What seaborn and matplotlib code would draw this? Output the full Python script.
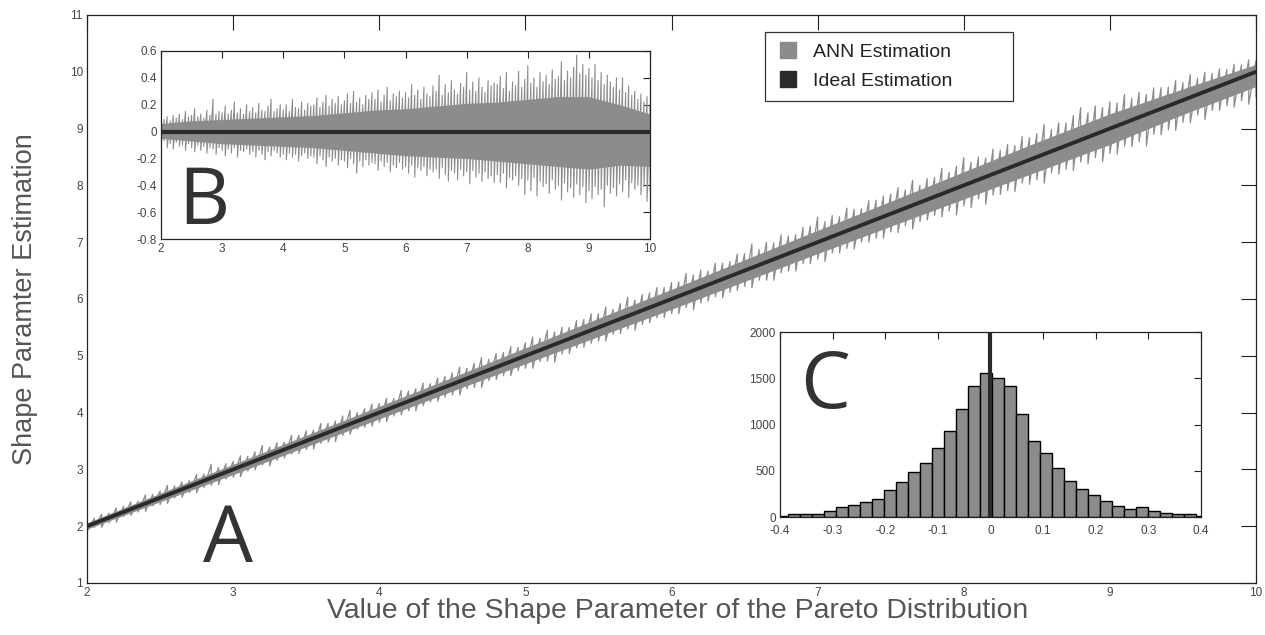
import numpy as np
import pandas as pd
import matplotlib
matplotlib.use("Agg")
import matplotlib.pyplot as plt
from matplotlib.lines import Line2D
import seaborn as sns

# true shape parameter values the network was tested on
shape_x = [2.00, 2.05, 2.10, 2.15, 2.20, 2.25, 2.30, 2.35, 2.40, 2.45,
           2.50, 2.55, 2.60, 2.65, 2.70, 2.75, 2.80, 2.85, 2.90, 2.95,
           3.00, 3.05, 3.10, 3.15, 3.20, 3.25, 3.30, 3.35, 3.40, 3.45,
           3.50, 3.55, 3.60, 3.65, 3.70, 3.75, 3.80, 3.85, 3.90, 3.95,
           4.00, 4.05, 4.10, 4.15, 4.20, 4.25, 4.30, 4.35, 4.40, 4.45,
           4.50, 4.55, 4.60, 4.65, 4.70, 4.75, 4.80, 4.85, 4.90, 4.95,
           5.00, 5.05, 5.10, 5.15, 5.20, 5.25, 5.30, 5.35, 5.40, 5.45,
           5.50, 5.55, 5.60, 5.65, 5.70, 5.75, 5.80, 5.85, 5.90, 5.95,
           6.00, 6.05, 6.10, 6.15, 6.20, 6.25, 6.30, 6.35, 6.40, 6.45,
           6.50, 6.55, 6.60, 6.65, 6.70, 6.75, 6.80, 6.85, 6.90, 6.95,
           7.00, 7.05, 7.10, 7.15, 7.20, 7.25, 7.30, 7.35, 7.40, 7.45,
           7.50, 7.55, 7.60, 7.65, 7.70, 7.75, 7.80, 7.85, 7.90, 7.95,
           8.00, 8.05, 8.10, 8.15, 8.20, 8.25, 8.30, 8.35, 8.40, 8.45,
           8.50, 8.55, 8.60, 8.65, 8.70, 8.75, 8.80, 8.85, 8.90, 8.95,
           9.00, 9.05, 9.10, 9.15, 9.20, 9.25, 9.30, 9.35, 9.40, 9.45,
           9.50, 9.55, 9.60, 9.65, 9.70, 9.75, 9.80, 9.85, 9.90, 9.95,
           10.00]

# spread of the ANN error (estimate - true), upper and lower spikes read off inset B
ann_err_upper = [0.14, 0.09, 0.11, 0.08, 0.12, 0.10, 0.13, 0.09, 0.15, 0.11,
                 0.12, 0.17, 0.11, 0.13, 0.10, 0.16, 0.12, 0.24, 0.13, 0.15,
                 0.14, 0.19, 0.13, 0.16, 0.22, 0.14, 0.17, 0.13, 0.20, 0.15,
                 0.18, 0.14, 0.21, 0.16, 0.15, 0.19, 0.24, 0.15, 0.17, 0.20,
                 0.16, 0.20, 0.15, 0.24, 0.18, 0.17, 0.22, 0.16, 0.21, 0.19,
                 0.20, 0.25, 0.18, 0.22, 0.27, 0.19, 0.24, 0.21, 0.26, 0.20,
                 0.23, 0.28, 0.21, 0.30, 0.22, 0.25, 0.20, 0.27, 0.24, 0.29,
                 0.24, 0.31, 0.22, 0.27, 0.33, 0.23, 0.28, 0.26, 0.30, 0.25,
                 0.29, 0.25, 0.35, 0.27, 0.31, 0.24, 0.33, 0.28, 0.26, 0.34,
                 0.30, 0.42, 0.27, 0.35, 0.29, 0.38, 0.31, 0.28, 0.36, 0.33,
                 0.44, 0.31, 0.37, 0.30, 0.40, 0.33, 0.29, 0.38, 0.34, 0.36,
                 0.35, 0.41, 0.32, 0.44, 0.30, 0.37, 0.34, 0.45, 0.33, 0.39,
                 0.49, 0.36, 0.40, 0.33, 0.44, 0.37, 0.42, 0.35, 0.46, 0.39,
                 0.41, 0.52, 0.38, 0.45, 0.40, 0.48, 0.57, 0.43, 0.50, 0.42,
                 0.47, 0.40, 0.50, 0.38, 0.44, 0.35, 0.42, 0.37, 0.33, 0.40,
                 0.31, 0.40, 0.29, 0.34, 0.27, 0.30, 0.24, 0.28, 0.22, 0.26,
                 0.20]
ann_err_lower = [-0.10, -0.07, -0.12, -0.09, -0.13, -0.08, -0.11, -0.10, -0.14, -0.09,
                 -0.12, -0.15, -0.10, -0.14, -0.11, -0.16, -0.12, -0.13, -0.17, -0.12,
                 -0.14, -0.18, -0.13, -0.16, -0.12, -0.19, -0.14, -0.15, -0.13, -0.17,
                 -0.15, -0.19, -0.14, -0.17, -0.21, -0.15, -0.18, -0.14, -0.16, -0.19,
                 -0.17, -0.21, -0.16, -0.19, -0.17, -0.22, -0.18, -0.16, -0.20, -0.18,
                 -0.19, -0.24, -0.18, -0.21, -0.26, -0.19, -0.22, -0.20, -0.25, -0.21,
                 -0.22, -0.27, -0.20, -0.24, -0.31, -0.22, -0.26, -0.21, -0.25, -0.23,
                 -0.24, -0.29, -0.22, -0.26, -0.23, -0.30, -0.25, -0.27, -0.23, -0.28,
                 -0.26, -0.31, -0.25, -0.34, -0.27, -0.29, -0.26, -0.33, -0.28, -0.30,
                 -0.28, -0.35, -0.27, -0.32, -0.37, -0.29, -0.31, -0.36, -0.28, -0.33,
                 -0.30, -0.39, -0.29, -0.34, -0.31, -0.37, -0.30, -0.35, -0.33, -0.38,
                 -0.32, -0.38, -0.31, -0.42, -0.34, -0.36, -0.33, -0.40, -0.35, -0.47,
                 -0.36, -0.44, -0.34, -0.48, -0.37, -0.41, -0.39, -0.46, -0.36, -0.43,
                 -0.40, -0.51, -0.38, -0.45, -0.42, -0.49, -0.39, -0.47, -0.41, -0.53,
                 -0.44, -0.50, -0.41, -0.47, -0.43, -0.56, -0.40, -0.46, -0.42, -0.48,
                 -0.39, -0.45, -0.36, -0.49, -0.38, -0.43, -0.40, -0.47, -0.41, -0.52,
                 -0.44]

# dense core of the error band
core_x = [2.0, 2.5, 3.0, 3.5, 4.0, 4.5, 5.0, 5.5, 6.0, 6.5, 7.0, 7.5, 8.0, 8.5, 9.0, 9.5, 10.0]
core_upper = [0.06, 0.08, 0.09, 0.10, 0.11, 0.12, 0.14, 0.16, 0.17, 0.19, 0.21, 0.22, 0.24, 0.26, 0.26, 0.20, 0.13]
core_lower = [-0.05, -0.07, -0.09, -0.10, -0.11, -0.12, -0.14, -0.16, -0.18, -0.19, -0.20, -0.22, -0.24, -0.26, -0.28, -0.25, -0.26]

# ideal estimator
ideal_x = [2, 10]
ideal_y = [2, 10]
ideal_err = [0, 0]

# histogram of the error (inset C)
hist_centers = [-0.3955, -0.3727, -0.3499, -0.3271, -0.3043, -0.2815, -0.2587, -0.2359, -0.2131,
                -0.1903, -0.1675, -0.1447, -0.1219, -0.0991, -0.0763, -0.0535, -0.0307, -0.0079,
                0.0149, 0.0377, 0.0605, 0.0833, 0.1061, 0.1289, 0.1517, 0.1745, 0.1973,
                0.2201, 0.2429, 0.2657, 0.2885, 0.3113, 0.3341, 0.3569, 0.3797, 0.4025]
hist_counts = [15, 30, 35, 35, 65, 108, 130, 162, 200, 290, 380, 485, 585, 750, 935, 1165, 1415, 1555,
               1500, 1415, 1115, 820, 690, 530, 390, 300, 240, 170, 120, 87, 108, 65, 47, 30, 30, 15]
hist_binwidth = 0.0228

sns.set_style("white")
plt.rcParams['font.family'] = ['Liberation Sans', 'DejaVu Sans']

ANN_GREY = '#8c8c8c'
IDEAL_DARK = '#2a2a2a'
TEXT_GREY = '#555555'
LETTER = '#333333'

# noisy trace: each sample drawn as a swing from its upper to its lower value
trace = pd.DataFrame({
    'x': np.repeat(shape_x, 2),
    'err': np.column_stack([ann_err_upper, ann_err_lower]).ravel(),
})
trace['est'] = trace['x'] + trace['err']


def matlab_box(a, length, size, xpad=3):
    """Inward ticks on all four sides, like the original figure."""
    a.tick_params(direction='in', length=length, width=0.8, top=True, right=True,
                  color='#222222', labelcolor='#444444', labelsize=size, pad=3)
    a.tick_params(axis='x', pad=xpad)
    for sp in a.spines.values():
        sp.set_color('#222222')
        sp.set_linewidth(0.9)


fig = plt.figure(figsize=(12.65, 6.35), dpi=100)

# ---- main panel A ----
ax = fig.add_axes([0.0688, 0.0819, 0.9241, 0.8945])
ax.fill_between(core_x, np.add(core_x, core_lower), np.add(core_x, core_upper),
                color=ANN_GREY, lw=0)
sns.lineplot(data=trace, x='x', y='est', ax=ax, sort=False, estimator=None,
             color=ANN_GREY, lw=0.9)
sns.lineplot(x=ideal_x, y=ideal_y, ax=ax, color=IDEAL_DARK, lw=2.8)
ax.set_xlim(2, 10)
ax.set_ylim(1, 11)
ax.set_xticks(range(2, 11))
ax.set_yticks(range(1, 12))
matlab_box(ax, 11, 8.5)
ax.set_xlabel('Value of the Shape Parameter of the Pareto Distribution',
              fontsize=20.4, color=TEXT_GREY)
ax.set_ylabel('Shape Paramter Estimation', fontsize=19.5, color=TEXT_GREY)
ax.xaxis.set_label_coords(0.505, -0.026)
ax.yaxis.set_label_coords(-0.042, 0.5)

handles = [Line2D([], [], marker='s', ls='none', color=ANN_GREY, markersize=12,
                  label='ANN Estimation'),
           Line2D([], [], marker='s', ls='none', color=IDEAL_DARK, markersize=12,
                  label='Ideal Estimation')]
leg = ax.legend(handles=handles, loc='upper left', mode='expand',
                bbox_to_anchor=(0.58, 0.85, 0.2121, 0.12), borderaxespad=0,
                fontsize=14, frameon=True, fancybox=False, framealpha=1,
                edgecolor='#333333', handlelength=1.2, handletextpad=0.65,
                borderpad=0.6, labelspacing=0.55)
leg.get_frame().set_linewidth(0.9)
for t in leg.get_texts():
    t.set_color('#222222')

# ---- inset B: error vs true value ----
axb = fig.add_axes([0.1273, 0.6236, 0.3866, 0.2961])
axb.fill_between(core_x, core_lower, core_upper, color=ANN_GREY, lw=0)
sns.lineplot(data=trace, x='x', y='err', ax=axb, sort=False, estimator=None,
             color=ANN_GREY, lw=0.8)
sns.lineplot(x=ideal_x, y=ideal_err, ax=axb, color=IDEAL_DARK, lw=3)
axb.set_xlim(2, 10)
axb.set_ylim(-0.8, 0.6)
b_yticks = [-0.8, -0.6, -0.4, -0.2, 0, 0.2, 0.4, 0.6]
axb.set_xticks(range(2, 11))
axb.set_yticks(b_yticks)
axb.set_yticklabels(['%g' % v for v in b_yticks])
axb.set_xlabel('')
axb.set_ylabel('')
matlab_box(axb, 5, 8.5)

# ---- inset C: histogram of the error ----
axc = fig.add_axes([0.6166, 0.1858, 0.3328, 0.2913])
hist_df = pd.DataFrame({'err': hist_centers, 'count': hist_counts})
edges = [c - hist_binwidth / 2 for c in hist_centers] + [hist_centers[-1] + hist_binwidth / 2]
sns.histplot(data=hist_df, x='err', weights='count', bins=edges, ax=axc,
             color=ANN_GREY, edgecolor='black', linewidth=1, alpha=1)
axc.axvline(ideal_err[0], color=IDEAL_DARK, lw=3)
axc.set_xlim(-0.4, 0.4)
axc.set_ylim(0, 2000)
c_xticks = [-0.4, -0.3, -0.2, -0.1, 0, 0.1, 0.2, 0.3, 0.4]
axc.set_xticks(c_xticks)
axc.set_xticklabels(['%g' % v for v in c_xticks])
axc.set_yticks([0, 500, 1000, 1500, 2000])
axc.set_ylabel('')
axc.set_xlabel('')
matlab_box(axc, 5, 8.5, xpad=6)

# panel letters
letter_font = ['Open Sans', 'DejaVu Sans']
fig.text(228 / 1265, 1 - 562 / 635, 'A', ha='center', va='baseline', fontsize=57,
         family=letter_font, color=LETTER)
fig.text(204 / 1265, 1 - 224 / 635, 'B', ha='center', va='baseline', fontsize=57,
         family=letter_font, color=LETTER)
fig.text(825 / 1265, 1 - 408 / 635, 'C', ha='center', va='baseline', fontsize=57,
         family=letter_font, color=LETTER)

fig.savefig('out.png', dpi=100)
